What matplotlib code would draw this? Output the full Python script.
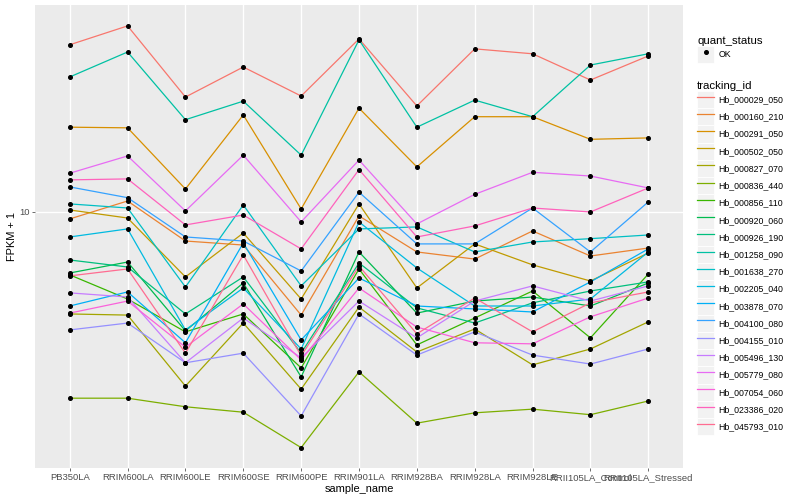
"""Expression profiles (FPKM + 1, log scale) of selected Hb transcripts across samples."""

import matplotlib
matplotlib.use("Agg")
import matplotlib.pyplot as plt
from matplotlib.legend_handler import HandlerLine2D
from matplotlib.lines import Line2D
from matplotlib.patches import Rectangle
import numpy as np

plt.rcParams["font.family"] = ["Liberation Sans", "DejaVu Sans"]

# === Data (FPKM, plotted as FPKM + 1) ===
SAMPLES = ["PB350LA", "RRIM600LA", "RRIM600LE", "RRIM600SE", "RRIM600PE",
           "RRIM901LA", "RRIM928BA", "RRIM928LA", "RRIM928LE",
           "RRII105LA_Control", "RRII105LA_Stressed"]

TRACKING_IDS = ["Hb_000029_050", "Hb_000160_210", "Hb_000291_050", "Hb_000502_050",
                "Hb_000827_070", "Hb_000836_440", "Hb_000856_110", "Hb_000920_060",
                "Hb_000926_190", "Hb_001258_090", "Hb_001638_270", "Hb_002205_040",
                "Hb_003878_070", "Hb_004100_080", "Hb_004155_010", "Hb_005496_130",
                "Hb_005779_080", "Hb_007054_060", "Hb_023386_020", "Hb_045793_010"]

hb_000029_050 = [36.7, 42.8, 23.9, 30.6, 24.1, 38.5, 22.2, 35.5, 34.1, 27.5, 33.5]
hb_000160_210 = [8.46, 9.91, 6.94, 6.69, 3.41, 8.69, 6.28, 5.88, 7.60, 6.05, 6.51]
hb_000291_050 = [18.6, 18.5, 11.0, 20.6, 9.24, 21.8, 13.3, 20.3, 20.3, 16.8, 17.0]
hb_000502_050 = [9.16, 8.53, 4.97, 7.46, 4.01, 9.66, 4.47, 6.76, 5.57, 4.78, 6.22]
hb_000827_070 = [3.45, 3.41, 1.51, 3.14, 1.45, 3.70, 2.29, 2.95, 1.97, 2.37, 3.18]
hb_000836_440 = [1.28, 1.28, 1.13, 1.04, 0.54, 1.81, 0.87, 1.03, 1.09, 1.00, 1.23]
hb_000856_110 = [5.07, 4.01, 2.86, 3.45, 1.90, 5.36, 2.48, 3.31, 4.34, 2.68, 5.11]
hb_000920_060 = [5.16, 5.72, 2.89, 4.69, 1.70, 6.28, 3.48, 3.93, 4.09, 3.74, 4.69]
hb_000926_190 = [5.83, 5.46, 3.45, 4.97, 2.26, 5.67, 3.67, 3.14, 3.86, 4.34, 4.74]
hb_001258_090 = [28.2, 34.6, 19.8, 23.1, 14.7, 38.2, 18.6, 23.3, 20.3, 31.1, 34.1]
hb_001638_270 = [9.66, 9.32, 4.51, 9.57, 4.56, 7.74, 7.88, 6.28, 6.88, 7.09, 7.33]
hb_002205_040 = [7.20, 7.74, 2.92, 4.47, 2.37, 8.24, 5.41, 3.74, 3.74, 4.01, 6.28]
hb_003878_070 = [3.74, 4.30, 2.54, 6.82, 2.62, 4.92, 3.74, 3.63, 3.52, 4.74, 6.46]
hb_004100_080 = [11.2, 10.2, 7.20, 6.94, 5.26, 10.7, 6.76, 6.76, 9.32, 6.28, 9.83]
hb_004155_010 = [2.92, 3.14, 2.02, 2.26, 0.98, 3.45, 2.21, 2.86, 2.21, 1.99, 2.37]
hb_005496_130 = [4.26, 4.09, 2.02, 3.31, 2.14, 3.93, 2.68, 3.93, 4.56, 3.93, 4.56]
hb_005779_080 = [12.6, 14.6, 9.08, 14.7, 8.24, 14.1, 8.09, 10.5, 12.7, 12.3, 11.1]
hb_007054_060 = [3.48, 3.93, 2.42, 3.82, 2.09, 4.47, 3.01, 2.54, 2.51, 3.35, 4.05]
hb_023386_020 = [11.9, 12.0, 8.02, 8.76, 6.46, 13.0, 7.20, 7.95, 9.32, 9.00, 11.1]
hb_045793_010 = [5.02, 5.36, 2.26, 6.11, 2.19, 5.51, 2.80, 4.05, 2.86, 3.86, 4.30]

FPKM = [hb_000029_050, hb_000160_210, hb_000291_050, hb_000502_050, hb_000827_070,
        hb_000836_440, hb_000856_110, hb_000920_060, hb_000926_190, hb_001258_090,
        hb_001638_270, hb_002205_040, hb_003878_070, hb_004100_080, hb_004155_010,
        hb_005496_130, hb_005779_080, hb_007054_060, hb_023386_020, hb_045793_010]

QUANT_STATUS = "OK"

# ggplot2 default hue palette for 20 levels
COLORS = ["#F8766D", "#EA8331", "#D89000", "#C09B00", "#A3A500", "#7CAE00", "#39B600",
          "#00BB4E", "#00BF7D", "#00C1A3", "#00BFC4", "#00BAE0", "#00B0F6", "#35A2FF",
          "#9590FF", "#C77CFF", "#E76BF3", "#FA62DB", "#FF62BC", "#FF6C91"]


class KeyHandler(HandlerLine2D):
    """Legend key with ggplot-like grey background box."""

    def create_artists(self, legend, orig_handle, xdescent, ydescent, width, height,
                       fontsize, trans):
        bg = Rectangle((-xdescent, -ydescent), width, height, facecolor="#F2F2F2",
                       edgecolor="white", linewidth=0.6, transform=trans)
        arts = super().create_artists(legend, orig_handle, xdescent, ydescent,
                                      width, height, fontsize, trans)
        return [bg] + list(arts)


fig = plt.figure(figsize=(8, 5), dpi=100)
ax = fig.add_axes([35 / 800, 1 - 468 / 500, 648 / 800, 463 / 500])
ax.set_facecolor("#EBEBEB")
for s in ax.spines.values():
    s.set_visible(False)

x = np.arange(len(SAMPLES))
for tid, vals, color in zip(TRACKING_IDS, FPKM, COLORS):
    y = np.array(vals) + 1
    ax.plot(x, y, color=color, linewidth=0.9, zorder=3)
for vals in FPKM:
    ax.plot(x, np.array(vals) + 1, linestyle="none", marker="o", markersize=2.6,
            color="black", zorder=4)

ax.set_yscale("log")
ax.set_ylim(1.31, 51.7)
ax.set_xlim(-0.6, len(SAMPLES) - 0.4)
ax.set_yticks([10])
ax.set_yticklabels(["10"])
ax.yaxis.set_minor_locator(matplotlib.ticker.NullLocator())
ax.set_xticks(x)
ax.set_xticklabels(SAMPLES)
ax.grid(True, which="major", color="white", linewidth=1.0, zorder=0)
ax.set_axisbelow(True)
ax.tick_params(axis="both", which="major", length=2.0, width=0.5, color="#333333",
               labelsize=6.8, labelcolor="#4D4D4D", pad=1.6)

ax.set_xlabel("sample_name", fontsize=7.9, labelpad=1.5)
ax.set_ylabel("FPKM + 1", fontsize=7.9, labelpad=2)

# Legends (key height = fontsize * (0.65 * handleheight + 0.245))
legend_kw = dict(loc="upper left", frameon=False, fontsize=6.3, title_fontsize=8.2,
                 handlelength=1.975, handleheight=2.65, handletextpad=0.45,
                 borderpad=0, borderaxespad=0, labelspacing=0, alignment="left")

status_handle = Line2D([], [], linestyle="none", marker="o", markersize=2.6, color="black")
leg1 = fig.legend([status_handle], [QUANT_STATUS], title="quant_status",
                  bbox_to_anchor=(697 / 800, 1 - 36 / 500), numpoints=1,
                  handler_map={Line2D: KeyHandler(numpoints=1)}, **legend_kw)

line_handles = [Line2D([], [], color=c, linewidth=0.9) for c in COLORS]
leg2 = fig.legend(line_handles, TRACKING_IDS, title="tracking_id",
                  bbox_to_anchor=(697 / 800, 1 - 81 / 500),
                  handler_map={Line2D: KeyHandler()}, **legend_kw)

fig.savefig("out.png", dpi=100)
plt.close(fig)
